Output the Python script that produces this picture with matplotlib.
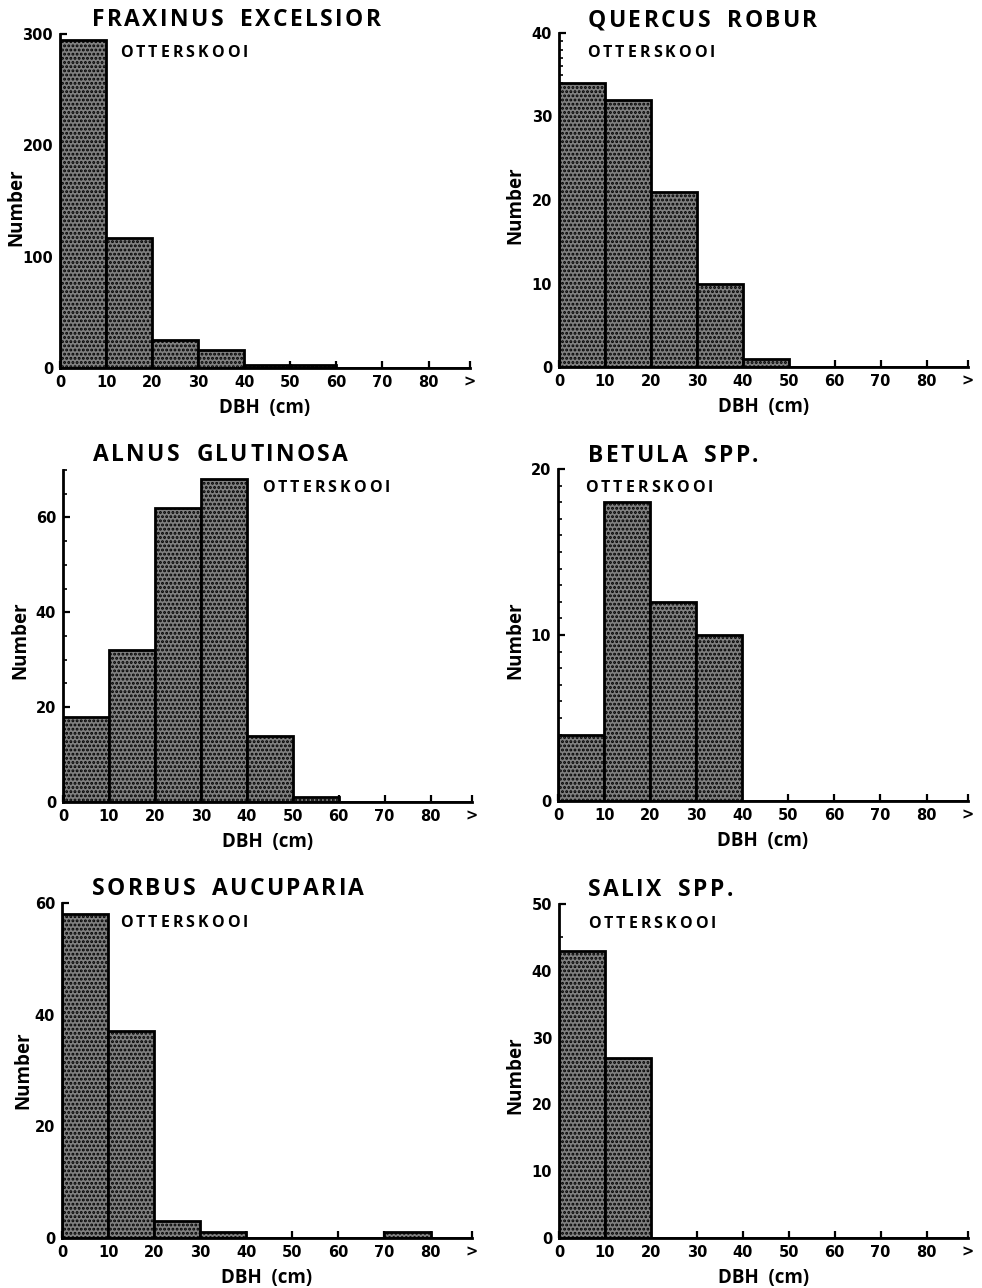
import matplotlib
matplotlib.use("Agg")
import matplotlib.pyplot as plt
import numpy as np

# DBH class lower edges (cm); each class is 10 cm wide
dbh_edges = [0, 10, 20, 30, 40, 50, 60, 70, 80]
x_tick_labels = ["0", "10", "20", "30", "40", "50", "60", "70", "80", ">"]

site = "OTTERSKOOI"

fraxinus = [295, 117, 25, 16, 3, 3, 0, 0, 0]
quercus = [34, 32, 21, 10, 1, 0, 0, 0, 0]
alnus = [18, 32, 62, 68, 14, 1, 0, 0, 0]
betula = [4, 18, 12, 10, 0, 0, 0, 0, 0]
sorbus = [58, 37, 3, 1, 0, 0, 0, 1, 0]
salix = [43, 27, 0, 0, 0, 0, 0, 0, 0]

species = ["FRAXINUS EXCELSIOR", "QUERCUS ROBUR", "ALNUS GLUTINOSA",
           "BETULA SPP.", "SORBUS AUCUPARIA", "SALIX SPP."]
counts = [fraxinus, quercus, alnus, betula, sorbus, salix]
y_max = [300, 40, 70, 20, 60, 50]
y_major = [100, 10, 20, 10, 20, 10]
y_minor = [10, 1, 5, 1, 5, 5]

W, H = 982, 1288
# axes boxes in pixels: left, right, bottom, top
boxes = [(60, 470, 368, 34), (559, 968, 367, 33),
         (63, 472, 802, 470), (558, 968, 801, 469),
         (62, 472, 1238, 903), (559, 968, 1238, 904)]
# title and site label anchors (pixel x, baseline y)
title_pos = [(92, 26), (588, 27), (93, 461), (588, 462), (92, 895), (588, 896)]
site_pos = [(120, 57), (587, 57), (262, 492), (585, 492), (120, 927), (588, 928)]
# centre of the rotated "Number" label (pixel x, y)
ylab_pos = [(16, 207), (515, 205), (20, 640), (515, 640), (23, 1070), (515, 1075)]

plt.rcParams["hatch.linewidth"] = 1.4
plt.rcParams["hatch.color"] = "#e6e6e6"

fig = plt.figure(figsize=(W / 100, H / 100), dpi=100)
fig.patch.set_facecolor("white")
renderer = fig.canvas.get_renderer()

label_font = dict(family=["Open Sans", "DejaVu Sans"], weight="bold")
tick_font = dict(family=["DejaVu Sans"], weight="bold")


def tracked_text(x_px, y_px, s, size, track_px, space_px):
    """Write s letter by letter with extra spacing between the letters."""
    x = x_px
    for ch in s:
        if ch == " ":
            x += space_px
            continue
        t = fig.text(x / W, 1 - y_px / H, ch, fontsize=size, ha="left",
                     va="baseline", **label_font)
        x += t.get_window_extent(renderer).width + track_px


for i in range(6):
    l, r, b, t = boxes[i]
    ax = fig.add_axes([l / W, 1 - b / H, (r - l) / W, (b - t) / H])
    vals = counts[i]
    ax.bar(dbh_edges, vals, width=10, align="edge", facecolor="#808080",
           edgecolor="black", linewidth=2.0, hatch="....", zorder=2)
    ax.set_xlim(0, 89)
    ax.set_ylim(0, y_max[i])
    for s in ("top", "right"):
        ax.spines[s].set_visible(False)
    for s in ("left", "bottom"):
        ax.spines[s].set_linewidth(2.0)
        ax.spines[s].set_zorder(3)
    ax.set_xticks(dbh_edges + [89])
    ax.set_xticklabels(x_tick_labels, fontsize=10.5, **tick_font)
    ax.set_yticks(np.arange(0, y_max[i] + 1, y_major[i]))
    ax.set_yticks(np.arange(0, y_max[i] + 0.1, y_minor[i]), minor=True)
    ax.set_yticklabels([str(v) for v in np.arange(0, y_max[i] + 1, y_major[i])],
                       fontsize=10.5, **tick_font)
    ax.tick_params(axis="both", which="major", direction="in", length=5,
                   width=1.6, pad=5)
    ax.tick_params(axis="y", which="minor", direction="in", length=3, width=1.2)
    ax.set_xlabel("DBH  (cm)", fontsize=13.5, labelpad=6, **label_font)
    ax.set_facecolor("white")

    yx, yy = ylab_pos[i]
    fig.text(yx / W, 1 - yy / H, "Number", rotation=90, fontsize=13.5,
             ha="center", va="center", **label_font)

    tx, ty = title_pos[i]
    tracked_text(tx, ty, species[i], 16.5, 2.4, 14)
    sx, sy = site_pos[i]
    tracked_text(sx, sy, site, 11.5, 3.0, 8)

fig.savefig("out.png", dpi=100, facecolor="white")
